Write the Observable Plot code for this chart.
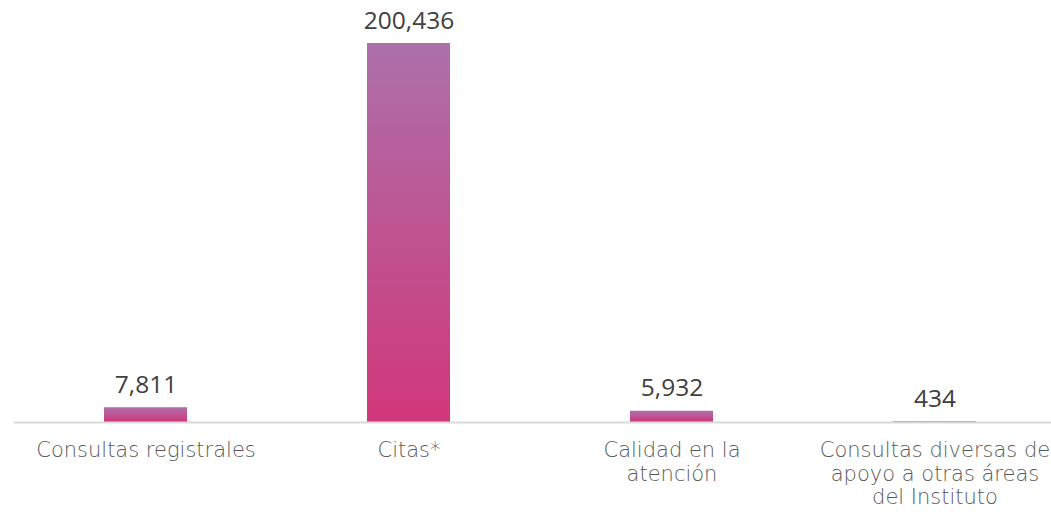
<!DOCTYPE html>
<html>
<head>
<meta charset="utf-8">
<script src="https://cdn.jsdelivr.net/npm/d3@7"></script>
<script src="https://cdn.jsdelivr.net/npm/@observablehq/plot@0.6"></script>
<style>
  html, body { margin: 0; padding: 0; background: #fff; overflow: hidden; }
  #chart svg { display: block; }
</style>
</head>
<body>
<div id="chart"></div>
<script>
const categories = [
  "Consultas registrales",
  "Citas*",
  "Calidad en la\natención",
  "Consultas diversas de\napoyo a otras áreas\ndel Instituto"
];
const values = [7811, 200436, 5932, 434];
const valueLabels = ["7,811", "200,436", "5,932", "434"];

const data = categories.map((c, i) => ({category: c, value: values[i], label: valueLabels[i]}));

const chart = Plot.plot({
  width: 1051,
  height: 512,
  marginLeft: 14,
  marginRight: 0,
  marginTop: 0,
  marginBottom: 90,
  style: {background: "#fff", overflow: "hidden"},
  x: {domain: categories, range: [13.5, 1066.5], paddingInner: 0.684, paddingOuter: 0.342, axis: null},
  y: {domain: [0, d3.max(values)], range: [422, 43], axis: null},
  marks: [
    Plot.barY(data, {x: "category", y: "value", fill: "url(#barGrad)"}),
    Plot.ruleY([0], {stroke: "#d9d9d9", strokeWidth: 2}),
    Plot.text(data, {
      x: "category", y: "value", text: "label",
      lineAnchor: "bottom", dy: -15,
      fontSize: 24.5, fill: "#404040",
      fontFamily: "'Open Sans', sans-serif"
    }),
    Plot.text(data, {
      x: "category", text: "category",
      frameAnchor: "bottom", lineAnchor: "top", dy: 18,
      fontSize: 21, lineHeight: 1.12, fill: "#595959",
      fontWeight: 200, letterSpacing: 0.8,
      fontFamily: "'DejaVu Sans', sans-serif"
    })
  ]
});

const ns = "http://www.w3.org/2000/svg";
const defs = document.createElementNS(ns, "defs");
const grad = document.createElementNS(ns, "linearGradient");
grad.setAttribute("id", "barGrad");
grad.setAttribute("x1", "0"); grad.setAttribute("y1", "0");
grad.setAttribute("x2", "0"); grad.setAttribute("y2", "1");
[["0%", "#ad70aa"], ["100%", "#d1377a"]].forEach(([o, c]) => {
  const s = document.createElementNS(ns, "stop");
  s.setAttribute("offset", o);
  s.setAttribute("stop-color", c);
  grad.appendChild(s);
});
defs.appendChild(grad);
chart.insertBefore(defs, chart.firstChild);

document.getElementById("chart").appendChild(chart);
</script>
</body>
</html>
